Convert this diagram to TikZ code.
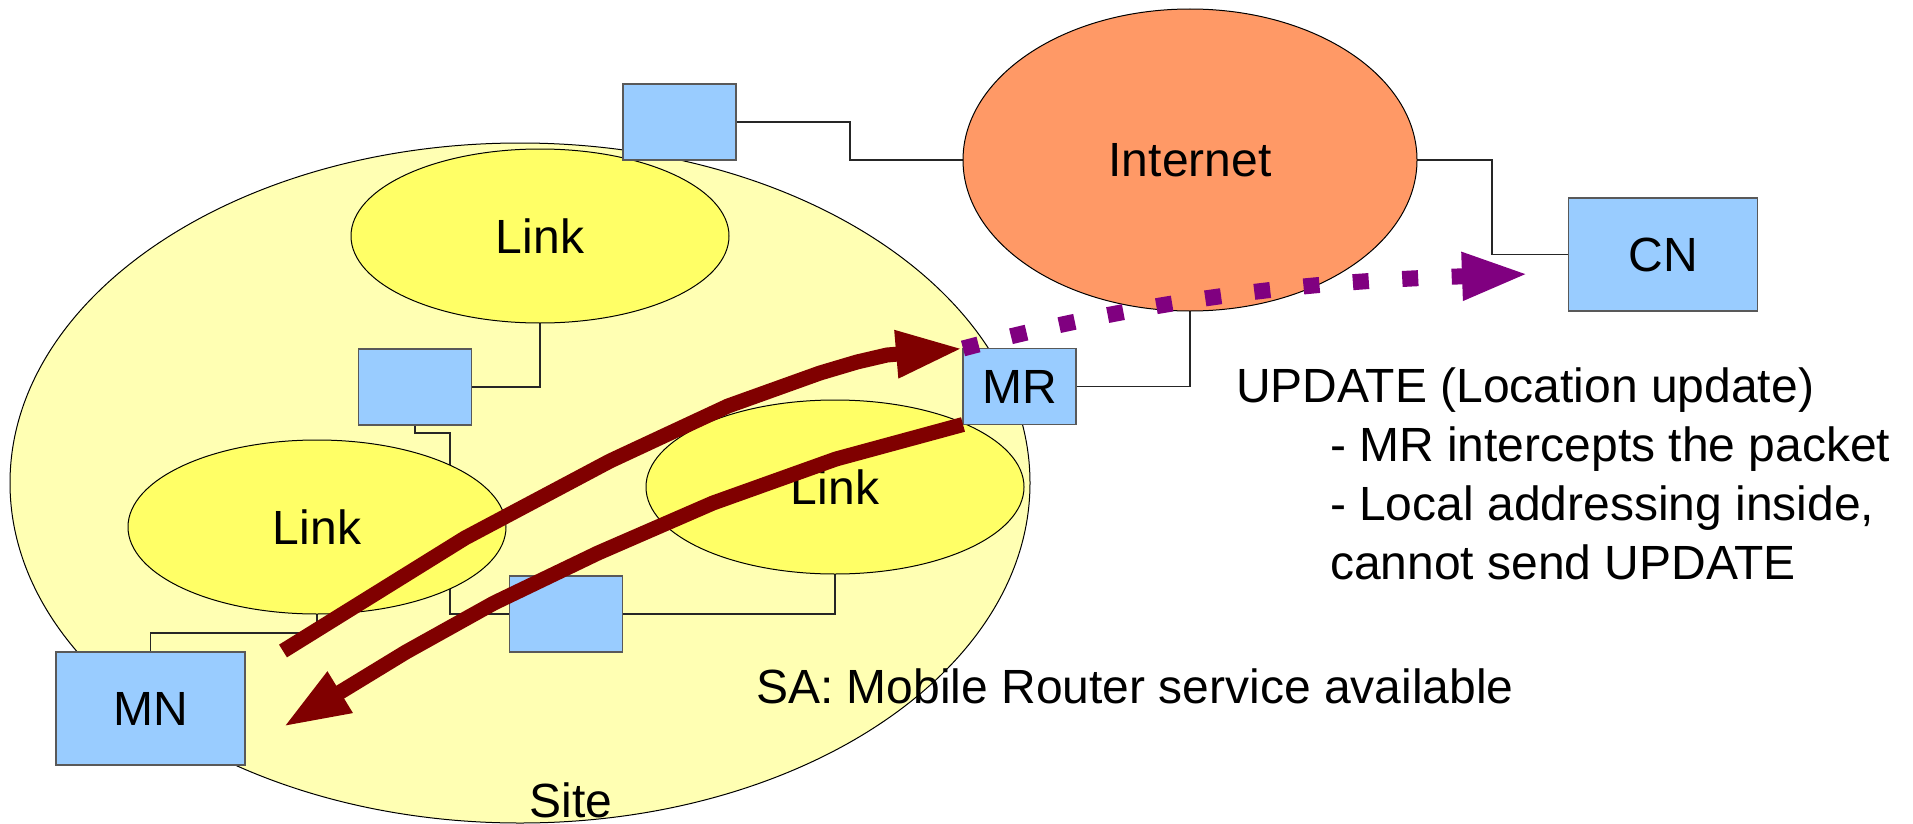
\documentclass[tikz,border=0pt]{standalone}
\usepackage{fontspec}
\setmainfont{Liberation Sans}
\usetikzlibrary{shapes.geometric,arrows.meta}

\definecolor{sitefill}{HTML}{FFFFB3}
\definecolor{linkfill}{HTML}{FFFF66}
\definecolor{boxfill}{HTML}{99CCFF}
\definecolor{netfill}{HTML}{FF9966}
\definecolor{flowred}{HTML}{800000}
\definecolor{updpurple}{HTML}{800080}

\pgfdeclarelayer{sitelayer}
\pgfdeclarelayer{wirelayer}
\pgfsetlayers{sitelayer,wirelayer,main}

\begin{document}
\begin{tikzpicture}[x=1pt,y=-1pt,
  every node/.style={font=\fontsize{48pt}{59pt}\selectfont, inner sep=0pt, outer sep=0pt},
  sitezone/.style={ellipse, draw=black, line width=1pt, fill=sitefill,
                   minimum width=1020pt, minimum height=680pt},
  linkzone/.style={ellipse, draw=black, line width=1pt, fill=linkfill,
                   minimum width=378pt, minimum height=174pt},
  netzone/.style={ellipse, draw=black, line width=1pt, fill=netfill,
                  minimum width=454pt, minimum height=302pt},
  router/.style={rectangle, draw=black!65, line width=1.2pt, fill=boxfill,
                 minimum width=113pt, minimum height=76pt},
  host/.style={router, minimum width=189pt, minimum height=113pt},
  wire/.style={draw=black!85, line width=1.2pt},
  flow/.style={draw=flowred, line width=15pt, line join=round,
               -{Triangle[length=67pt,width=44pt]}},
  signal/.style={draw=updpurple, line width=16pt, dash pattern=on 16pt off 33.5pt,
                 -{Triangle[length=67pt,width=44pt]}},
  caption/.style={anchor=base west}
]
\useasboundingbox (0,0) rectangle (1913,824);

% the site and its label
\begin{pgfonlayer}{sitelayer}
  \node[sitezone] (site) at (520,483) {};
\end{pgfonlayer}
\node[anchor=base] (sitelabel) at (571,817) {Site};

% link zones and the wider network
\node[linkzone] (linkA) at (540,236) {Link};
\node[linkzone] (linkB) at (317,527) {Link};
\node[linkzone] (linkC) at (835,487) {Link};
\node[netzone]  (net)   at (1190,160) {Internet};

% routers and hosts
\node[router] (gw)   at (679.5,122) {};
\node[router] (rtA)  at (415,387) {};
\node[router] (rtB)  at (566,614) {};
\node[router] (mr)   at (1019.5,386.5) {MR};
\node[host]   (mn)   at (150.5,708.5) {MN};
\node[host]   (cn)   at (1663,254.5) {CN};

% wiring, kept underneath the zones and boxes
\begin{pgfonlayer}{wirelayer}
  \draw[wire] (gw.east) -- ++(114,0) |- (net.west);
  \draw[wire] (net.east) -- ++(75,0) |- (cn.west);
  \draw[wire] (net.south) |- (mr.east);
  \draw[wire] (linkA.south) |- (rtA.east);
  \draw[wire] (rtA.south) -- ++(0,8) -- ++(35,0) |- (rtB.west);
  \draw[wire] (linkC.south) |- (rtB.east);
  \draw[wire] (linkB.south) -- ++(0,19) -| (mn.north);
\end{pgfonlayer}

% packet flow between MN and MR, and the UPDATE towards CN
\coordinate (mnout) at (283,651);
\coordinate (mnin)  at (283,727);
\coordinate (cnin)  at (1529,274);
\draw[flow] (mnout) -- (465,538) -- (610,461) -- (728,406) -- (820,373)
            -- (857,362) -- (887,355) -- (mr.north west);
\draw[flow] (mr.south west) -- (836,459) -- (713,503) -- (598,553)
            -- (494,603) -- (406,652) -- (mnin);
\draw[signal] (mr.north west) .. controls (1175.5,292) and (1339,280.6) .. (cnin);

% captions
\node[caption] (sa) at (756,703) {SA: Mobile Router service available};
\node[caption] (upd)  at (1236,402) {UPDATE (Location update)};
\node[caption] (upd1) at (1330,461) {- MR intercepts the packet};
\node[caption] (upd2) at (1330,520) {- Local addressing inside,};
\node[caption] (upd3) at (1330,579) {cannot send UPDATE};
\end{tikzpicture}
\end{document}
